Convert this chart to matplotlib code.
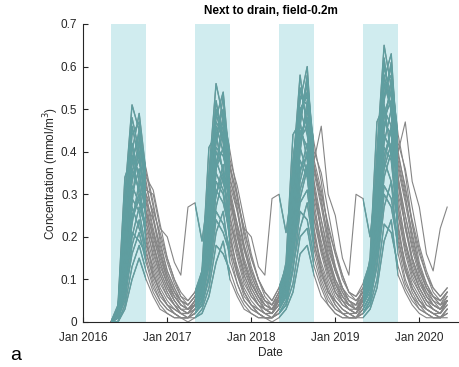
import matplotlib
matplotlib.use("Agg")
import matplotlib.pyplot as plt
import pandas as pd

plt.rcParams['font.family'] = ['Liberation Sans', 'DejaVu Sans']

# ---- data (monthly samples, May 2016 .. May 2020) ----
start_date = "2016-05-01"
n_points = 49
season_starts = ["2016-05-01", "2017-05-01", "2018-05-01", "2019-05-01"]
season_ends = ["2016-10-01", "2017-10-01", "2018-10-01", "2019-10-01"]
tick_dates = ["2016-01-01", "2017-01-01", "2018-01-01", "2019-01-01", "2020-01-01"]
tick_labels = ["Jan 2016", "Jan 2017", "Jan 2018", "Jan 2019", "Jan 2020"]
y_ticks = [0, 0.1, 0.2, 0.3, 0.4, 0.5, 0.6, 0.7]
y_tick_labels = ["0", "0.1", "0.2", "0.3", "0.4", "0.5", "0.6", "0.7"]

m01 = [0.00,0.02,0.18,0.35,0.42,0.31,0.30,0.22,0.20,0.14,0.11,0.27,
       0.28,0.19,0.31,0.47,0.44,0.37,0.29,0.22,0.20,0.13,0.11,0.29,
       0.30,0.21,0.33,0.50,0.53,0.38,0.46,0.30,0.25,0.15,0.11,0.30,
       0.29,0.20,0.35,0.55,0.58,0.40,0.47,0.33,0.27,0.16,0.12,0.22,
       0.27]
m02 = [0.00,0.03,0.30,0.51,0.45,0.33,0.24,0.16,0.10,0.07,0.05,0.04,
       0.06,0.10,0.35,0.56,0.48,0.34,0.26,0.17,0.11,0.07,0.05,0.04,
       0.07,0.12,0.38,0.52,0.60,0.35,0.27,0.18,0.12,0.08,0.05,0.04,
       0.08,0.13,0.40,0.65,0.55,0.36,0.28,0.19,0.12,0.08,0.06,0.05,
       0.07]
m03 = [0.00,0.01,0.22,0.46,0.38,0.28,0.19,0.12,0.08,0.05,0.03,0.02,
       0.04,0.08,0.28,0.42,0.53,0.30,0.20,0.13,0.08,0.05,0.03,0.02,
       0.05,0.09,0.32,0.55,0.47,0.31,0.21,0.14,0.09,0.05,0.03,0.03,
       0.05,0.10,0.30,0.52,0.61,0.33,0.22,0.14,0.09,0.06,0.04,0.03,
       0.05]
m04 = [0.00,0.02,0.15,0.40,0.49,0.35,0.27,0.20,0.14,0.09,0.06,0.05,
       0.07,0.12,0.24,0.50,0.45,0.36,0.30,0.21,0.15,0.10,0.07,0.05,
       0.08,0.13,0.26,0.47,0.56,0.38,0.31,0.22,0.16,0.10,0.07,0.06,
       0.09,0.14,0.28,0.58,0.50,0.39,0.32,0.23,0.16,0.11,0.08,0.06,
       0.08]
m05 = [0.00,0.01,0.10,0.30,0.36,0.24,0.15,0.10,0.06,0.04,0.02,0.02,
       0.03,0.07,0.18,0.38,0.33,0.25,0.16,0.10,0.06,0.04,0.02,0.02,
       0.04,0.08,0.20,0.35,0.42,0.26,0.17,0.11,0.07,0.04,0.03,0.02,
       0.04,0.09,0.22,0.44,0.40,0.27,0.17,0.11,0.07,0.04,0.03,0.02,
       0.04]
m06 = [0.00,0.00,0.08,0.25,0.30,0.20,0.12,0.07,0.04,0.02,0.01,0.01,
       0.02,0.05,0.15,0.31,0.28,0.21,0.12,0.07,0.04,0.02,0.01,0.01,
       0.03,0.06,0.17,0.29,0.36,0.22,0.13,0.08,0.04,0.02,0.01,0.01,
       0.03,0.06,0.19,0.38,0.33,0.23,0.13,0.08,0.05,0.03,0.02,0.01,
       0.03]
m07 = [0.00,0.02,0.26,0.42,0.33,0.30,0.22,0.15,0.10,0.06,0.04,0.03,
       0.05,0.09,0.30,0.46,0.40,0.31,0.23,0.15,0.10,0.06,0.04,0.03,
       0.06,0.10,0.34,0.50,0.44,0.33,0.24,0.16,0.10,0.07,0.04,0.04,
       0.06,0.11,0.36,0.48,0.52,0.34,0.25,0.17,0.11,0.07,0.05,0.04,
       0.06]
m08 = [0.00,0.01,0.05,0.18,0.24,0.15,0.09,0.05,0.03,0.02,0.01,0.01,
       0.02,0.04,0.11,0.24,0.21,0.16,0.09,0.05,0.03,0.02,0.01,0.01,
       0.02,0.05,0.13,0.22,0.28,0.17,0.10,0.06,0.03,0.02,0.01,0.01,
       0.02,0.05,0.14,0.30,0.27,0.18,0.10,0.06,0.04,0.02,0.01,0.01,
       0.02]
m09 = [0.00,0.03,0.20,0.33,0.40,0.26,0.20,0.14,0.09,0.06,0.04,0.03,
       0.05,0.10,0.25,0.40,0.36,0.28,0.21,0.14,0.09,0.06,0.04,0.03,
       0.06,0.11,0.27,0.44,0.48,0.29,0.22,0.15,0.10,0.06,0.04,0.03,
       0.06,0.12,0.29,0.47,0.44,0.30,0.23,0.15,0.10,0.07,0.04,0.03,
       0.05]
m10 = [0.00,0.01,0.12,0.27,0.22,0.18,0.13,0.08,0.05,0.03,0.02,0.02,
       0.03,0.06,0.19,0.33,0.30,0.19,0.13,0.08,0.05,0.03,0.02,0.02,
       0.04,0.07,0.21,0.38,0.34,0.20,0.14,0.09,0.05,0.03,0.02,0.02,
       0.04,0.08,0.22,0.36,0.42,0.21,0.14,0.09,0.06,0.03,0.02,0.02,
       0.04]
m11 = [0.00,0.02,0.16,0.38,0.44,0.34,0.31,0.23,0.15,0.10,0.07,0.05,
       0.07,0.11,0.22,0.44,0.50,0.38,0.32,0.24,0.16,0.10,0.07,0.05,
       0.08,0.12,0.25,0.48,0.57,0.40,0.35,0.26,0.17,0.11,0.07,0.06,
       0.08,0.13,0.27,0.53,0.60,0.42,0.36,0.27,0.18,0.12,0.08,0.06,
       0.08]
m12 = [0.00,0.01,0.07,0.20,0.27,0.22,0.16,0.11,0.07,0.04,0.03,0.02,
       0.04,0.07,0.14,0.27,0.34,0.23,0.17,0.11,0.07,0.04,0.03,0.02,
       0.04,0.08,0.16,0.31,0.37,0.24,0.17,0.12,0.07,0.05,0.03,0.02,
       0.05,0.08,0.17,0.34,0.40,0.25,0.18,0.12,0.08,0.05,0.03,0.02,
       0.05]
m13 = [0.00,0.02,0.28,0.48,0.40,0.26,0.17,0.11,0.07,0.04,0.02,0.02,
       0.04,0.09,0.32,0.52,0.42,0.27,0.18,0.11,0.07,0.04,0.03,0.02,
       0.05,0.10,0.36,0.58,0.45,0.28,0.18,0.12,0.07,0.05,0.03,0.02,
       0.05,0.10,0.38,0.62,0.49,0.29,0.19,0.12,0.08,0.05,0.03,0.02,
       0.05]
m14 = [0.00,0.00,0.04,0.13,0.18,0.12,0.07,0.04,0.02,0.01,0.01,0.01,
       0.01,0.03,0.08,0.18,0.16,0.12,0.07,0.04,0.02,0.01,0.01,0.01,
       0.02,0.04,0.09,0.20,0.22,0.13,0.08,0.04,0.02,0.01,0.01,0.01,
       0.02,0.04,0.10,0.23,0.21,0.13,0.08,0.05,0.03,0.02,0.01,0.01,
       0.02]
m15 = [0.00,0.02,0.19,0.36,0.31,0.28,0.24,0.18,0.12,0.08,0.05,0.04,
       0.06,0.10,0.26,0.37,0.45,0.32,0.26,0.18,0.12,0.08,0.05,0.04,
       0.07,0.11,0.29,0.42,0.50,0.36,0.28,0.20,0.13,0.08,0.05,0.04,
       0.07,0.12,0.31,0.50,0.46,0.37,0.29,0.21,0.13,0.09,0.06,0.04,
       0.07]
m16 = [0.00,0.01,0.09,0.23,0.33,0.19,0.11,0.07,0.04,0.03,0.02,0.01,
       0.03,0.06,0.16,0.35,0.31,0.20,0.12,0.07,0.04,0.03,0.02,0.01,
       0.03,0.07,0.18,0.33,0.40,0.21,0.12,0.07,0.05,0.03,0.02,0.01,
       0.04,0.07,0.20,0.41,0.38,0.22,0.13,0.08,0.05,0.03,0.02,0.01,
       0.03]
m17 = [0.00,0.03,0.24,0.44,0.47,0.32,0.25,0.17,0.11,0.07,0.05,0.04,
       0.06,0.11,0.29,0.48,0.54,0.36,0.27,0.18,0.12,0.08,0.05,0.04,
       0.07,0.12,0.31,0.53,0.51,0.37,0.29,0.19,0.12,0.08,0.06,0.05,
       0.07,0.12,0.33,0.57,0.63,0.38,0.30,0.20,0.13,0.08,0.06,0.05,
       0.07]
m18 = [0.00,0.01,0.11,0.29,0.26,0.17,0.10,0.06,0.04,0.02,0.01,0.01,
       0.02,0.05,0.17,0.30,0.37,0.18,0.11,0.06,0.04,0.02,0.01,0.01,
       0.03,0.06,0.19,0.41,0.35,0.19,0.11,0.07,0.04,0.02,0.02,0.01,
       0.03,0.06,0.21,0.39,0.45,0.20,0.12,0.07,0.04,0.03,0.02,0.01,
       0.03]
m19 = [0.00,0.02,0.14,0.32,0.28,0.23,0.18,0.12,0.08,0.05,0.03,0.03,
       0.04,0.08,0.20,0.36,0.41,0.24,0.18,0.12,0.08,0.05,0.03,0.03,
       0.05,0.09,0.23,0.45,0.41,0.26,0.19,0.13,0.08,0.05,0.04,0.03,
       0.05,0.09,0.24,0.42,0.50,0.27,0.19,0.13,0.08,0.05,0.04,0.03,
       0.05]
m20 = [0.00,0.01,0.06,0.16,0.21,0.14,0.08,0.05,0.03,0.02,0.01,0.01,
       0.02,0.04,0.10,0.21,0.26,0.14,0.09,0.05,0.03,0.02,0.01,0.01,
       0.02,0.04,0.12,0.26,0.24,0.15,0.09,0.05,0.03,0.02,0.01,0.01,
       0.02,0.05,0.13,0.27,0.33,0.16,0.09,0.06,0.03,0.02,0.01,0.01,
       0.02]
m21 = [0.00,0.01,0.08,0.28,0.43,0.36,0.28,0.19,0.12,0.08,0.05,0.03,
       0.04,0.07,0.18,0.36,0.49,0.40,0.30,0.20,0.13,0.08,0.05,0.03,
       0.05,0.08,0.20,0.40,0.52,0.42,0.33,0.21,0.13,0.08,0.05,0.04,
       0.05,0.09,0.22,0.45,0.57,0.44,0.35,0.23,0.14,0.09,0.06,0.04,
       0.05]
m22 = [0.00,0.01,0.09,0.21,0.19,0.16,0.11,0.07,0.04,0.03,0.02,0.01,
       0.03,0.05,0.13,0.26,0.23,0.17,0.11,0.07,0.04,0.03,0.02,0.01,
       0.03,0.06,0.15,0.28,0.31,0.18,0.12,0.07,0.05,0.03,0.02,0.01,
       0.03,0.06,0.16,0.32,0.29,0.19,0.12,0.08,0.05,0.03,0.02,0.01,
       0.03]
m23 = [0.00,0.04,0.34,0.39,0.30,0.21,0.14,0.09,0.06,0.04,0.02,0.02,
       0.05,0.12,0.41,0.44,0.35,0.22,0.15,0.09,0.06,0.04,0.03,0.02,
       0.06,0.14,0.44,0.47,0.38,0.24,0.16,0.10,0.06,0.04,0.03,0.02,
       0.06,0.15,0.47,0.51,0.39,0.25,0.16,0.10,0.07,0.04,0.03,0.02,
       0.05]
m24 = [0.00,0.02,0.13,0.34,0.38,0.30,0.26,0.21,0.15,0.10,0.06,0.04,
       0.06,0.09,0.21,0.41,0.39,0.33,0.28,0.22,0.15,0.10,0.06,0.04,
       0.06,0.10,0.23,0.43,0.46,0.36,0.30,0.23,0.16,0.11,0.07,0.05,
       0.07,0.11,0.25,0.49,0.54,0.40,0.31,0.24,0.17,0.11,0.07,0.05,
       0.07]
m25 = [0.00,0.00,0.03,0.10,0.15,0.10,0.06,0.03,0.02,0.01,0.01,0.00,
       0.01,0.02,0.06,0.14,0.19,0.10,0.06,0.03,0.02,0.01,0.01,0.00,
       0.01,0.03,0.07,0.16,0.18,0.11,0.06,0.04,0.02,0.01,0.01,0.01,
       0.01,0.03,0.08,0.19,0.24,0.11,0.07,0.04,0.02,0.01,0.01,0.01,
       0.01]
m26 = [0.00,0.02,0.21,0.39,0.35,0.25,0.18,0.13,0.09,0.06,0.04,0.03,
       0.05,0.09,0.27,0.43,0.47,0.29,0.20,0.14,0.09,0.06,0.04,0.03,
       0.06,0.10,0.30,0.49,0.54,0.32,0.21,0.14,0.09,0.06,0.04,0.03,
       0.06,0.11,0.32,0.56,0.50,0.34,0.22,0.15,0.10,0.06,0.04,0.03,
       0.06]
m27 = [0.00,0.01,0.10,0.24,0.29,0.26,0.21,0.16,0.11,0.07,0.04,0.03,
       0.04,0.07,0.16,0.30,0.35,0.29,0.23,0.17,0.11,0.07,0.04,0.03,
       0.05,0.08,0.18,0.36,0.39,0.31,0.24,0.17,0.12,0.07,0.05,0.03,
       0.05,0.09,0.19,0.37,0.46,0.33,0.25,0.18,0.12,0.08,0.05,0.03,
       0.05]
m28 = [0.00,0.03,0.27,0.37,0.45,0.29,0.21,0.14,0.09,0.05,0.03,0.02,
       0.04,0.10,0.33,0.49,0.43,0.30,0.22,0.14,0.09,0.06,0.03,0.02,
       0.05,0.11,0.35,0.46,0.58,0.31,0.22,0.15,0.09,0.06,0.04,0.03,
       0.05,0.11,0.37,0.60,0.53,0.32,0.23,0.15,0.10,0.06,0.04,0.03,
       0.05]

members = [m01, m02, m03, m04, m05, m06, m07, m08, m09, m10,
           m11, m12, m13, m14, m15, m16, m17, m18, m19, m20,
           m21, m22, m23, m24, m25, m26, m27, m28]

dates = pd.date_range(start_date, periods=n_points, freq="MS")

# ---- styling ----
SHADE = "#d0ecef"
TEAL = "#5f9ea0"
GRAY = "#858585"
AXC = "#262626"

fig = plt.figure(figsize=(4.6, 3.67), dpi=100)
ax = fig.add_axes([83 / 460, 45 / 367, 375 / 460, 298 / 367])

spans = []
for s, e in zip(season_starts, season_ends):
    sp = ax.axvspan(pd.Timestamp(s), pd.Timestamp(e), color=SHADE, lw=0, zorder=0)
    spans.append(sp)

for vals in members:
    ax.plot(dates, vals, color=GRAY, lw=0.8, zorder=2)
for vals in members:
    for sp in spans:
        ln, = ax.plot(dates, vals, color=TEAL, lw=1.0, zorder=3)
        ln.set_clip_path(sp)

ax.set_xlim(pd.Timestamp("2016-01-01"), pd.Timestamp("2020-06-17"))
ax.set_ylim(0, 0.7)
ax.set_xticks([pd.Timestamp(d) for d in tick_dates])
ax.set_xticklabels(tick_labels)
ax.set_yticks(y_ticks)
ax.set_yticklabels(y_tick_labels)

for side in ("top", "right"):
    ax.spines[side].set_visible(False)
for side in ("left", "bottom"):
    ax.spines[side].set_color(AXC)
    ax.spines[side].set_linewidth(0.8)
ax.tick_params(direction="in", length=3.5, width=0.8, colors=AXC,
               labelsize=8.5)
ax.tick_params(axis="x", pad=7)
ax.tick_params(axis="y", pad=4)

ax.set_xlabel("Date", fontsize=8.5, color=AXC, labelpad=2)
ax.set_ylabel("Concentration (mmol/m$^3$)", fontsize=8.5, color=AXC, labelpad=0)
ax.set_title("Next to drain, field-0.2m", fontsize=8.5, fontweight="bold",
             color="black", pad=7)

fig.text(10 / 460, 1 - 356 / 367, "a", fontsize=14, va="center", ha="left", color="black")

fig.savefig("out.png", dpi=100)
